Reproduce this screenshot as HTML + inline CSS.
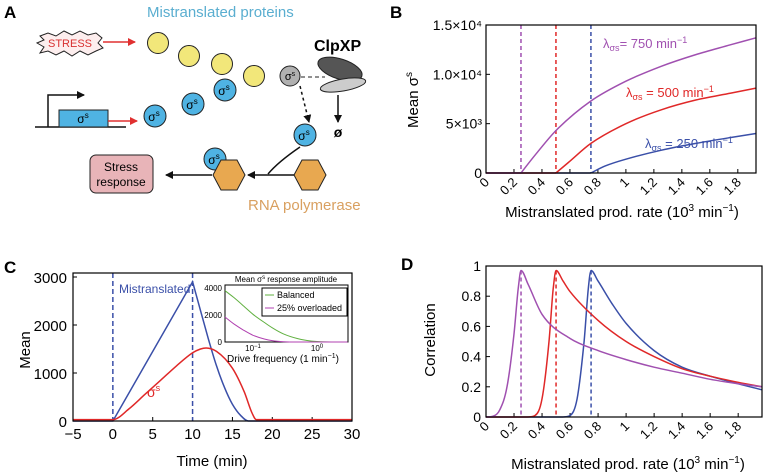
<!DOCTYPE html>
<html><head><meta charset="utf-8"><style>
html,body{margin:0;padding:0;background:#fff;}
svg{display:block;font-family:"Liberation Sans",Arial,sans-serif;}
</style></head><body>
<svg id="fig" width="766" height="476" viewBox="0 0 766 476" xmlns="http://www.w3.org/2000/svg">
<defs>
<marker id="ab" markerWidth="8" markerHeight="8" refX="7" refY="4" orient="auto" markerUnits="userSpaceOnUse"><path d="M0,0 L8,4 L0,8 z" fill="#111"/></marker>
<marker id="ar" markerWidth="8" markerHeight="8" refX="7" refY="4" orient="auto" markerUnits="userSpaceOnUse"><path d="M0,0 L8,4 L0,8 z" fill="#e03030"/></marker>
</defs>

<!-- PANEL A -->
<g>
<text x="4" y="18" font-size="17" font-weight="bold">A</text>
<text x="147" y="17" font-size="15" fill="#5aaed0">Mistranslated proteins</text>
<polygon points="40,36 48,33 56,36 64,31 72,35 80,31 88,35 96,33 102,38 98,43 103,48 96,51 88,55 80,51 72,56 64,51 56,55 48,51 40,53 44,47 37,43 44,40" fill="#fdeeee" stroke="#222" stroke-width="1"/>
<text x="70" y="47" font-size="11" fill="#d83030" text-anchor="middle">STRESS</text>
<line x1="103" y1="42" x2="135" y2="42" stroke="#e03030" stroke-width="1.5" marker-end="url(#ar)"/>
<g fill="#f2e77a" stroke="#222" stroke-width="1">
<circle cx="158" cy="43" r="10.5"/><circle cx="189" cy="56" r="10.5"/><circle cx="222" cy="64" r="10.5"/><circle cx="254" cy="76" r="10.5"/>
</g>
<circle cx="290" cy="76" r="10" fill="#b0b0b0" stroke="#222"/>
<text x="290" y="80" font-size="11" text-anchor="middle">σ<tspan font-size="7" dy="-4">s</tspan></text>
<line x1="301" y1="77" x2="325" y2="77" stroke="#222" stroke-dasharray="4,3"/>
<text x="314" y="51" font-size="16" font-weight="bold">ClpXP</text>
<ellipse cx="340" cy="69" rx="23" ry="10" transform="rotate(18 340 69)" fill="#555" stroke="#222"/>
<ellipse cx="343" cy="85" rx="23" ry="6" transform="rotate(-10 343 85)" fill="#ccc" stroke="#222"/>
<line x1="338" y1="95" x2="338" y2="122" stroke="#111" stroke-width="1.5" marker-end="url(#ab)"/>
<text x="338" y="137" font-size="14" font-weight="bold" text-anchor="middle">ø</text>
<line x1="300" y1="86" x2="309" y2="122" stroke="#111" stroke-width="1.5" stroke-dasharray="3,3" marker-end="url(#ab)"/>
<g>
<g fill="#4fb3e3" stroke="#222"><circle cx="155" cy="116" r="11"/><circle cx="193" cy="104" r="11"/><circle cx="225" cy="90" r="11"/><circle cx="305" cy="135" r="11"/><circle cx="215" cy="159" r="11"/></g>
<g font-size="12" text-anchor="middle"><text x="154" y="121">σ<tspan font-size="8" dy="-5">s</tspan></text><text x="192" y="109">σ<tspan font-size="8" dy="-5">s</tspan></text><text x="224" y="95">σ<tspan font-size="8" dy="-5">s</tspan></text><text x="304" y="140">σ<tspan font-size="8" dy="-5">s</tspan></text><text x="214" y="164">σ<tspan font-size="8" dy="-5">s</tspan></text></g>
</g>
<line x1="35" y1="127" x2="126" y2="127" stroke="#111" stroke-width="1.5"/>
<polyline points="48,127 48,95 84,95" fill="none" stroke="#111" stroke-width="1.5" marker-end="url(#ab)"/>
<rect x="59" y="110" width="49" height="17" fill="#4fb3e3" stroke="#222"/>
<text x="83" y="123" font-size="12" text-anchor="middle">σ<tspan font-size="8" dy="-5">s</tspan></text>
<line x1="108" y1="121" x2="137" y2="121" stroke="#e03030" stroke-width="1.5" marker-end="url(#ar)"/>
<g fill="#e8a850" stroke="#222">
<polygon points="213,175 221,160 237,160 245,175 237,190 221,190"/>
<polygon points="294,175 302,160 318,160 326,175 318,190 302,190"/>
</g>
<line x1="294" y1="175" x2="248" y2="175" stroke="#111" stroke-width="1.5" marker-end="url(#ab)"/>
<path d="M300,147 Q278,162 268,174" fill="none" stroke="#111" stroke-width="1.5"/>
<line x1="212" y1="175" x2="166" y2="175" stroke="#111" stroke-width="1.5" marker-end="url(#ab)"/>
<rect x="90" y="155" width="63" height="38" rx="6" fill="#e8b4b8" stroke="#222"/>
<text x="121" y="171" font-size="12" text-anchor="middle"><tspan x="121">Stress</tspan><tspan x="121" dy="15">response</tspan></text>
<text x="248" y="210" font-size="15" fill="#d9a060">RNA polymerase</text>
</g>

<g id="charts"></g>
</svg>
<script>
// ---- Panel B data ----
const bX = [0.25,0.35,0.5,0.75,1.0,1.25,1.5,1.75,1.93];
const bPurple = [0,1800,4300,7300,9300,10800,12000,13000,13700];
const bRedX = [0.5,0.6,0.75,1.0,1.25,1.5,1.75,1.93];
const bRed = [0,1200,3000,5000,6400,7400,8100,8600];
const bBlueX = [0.75,0.85,1.0,1.25,1.5,1.75,1.93];
const bBlue = [0,700,1400,2300,3000,3600,4000];
const bYTicks = [0,5000,10000,15000];
const bYLabels = ["0","5×10³","1.0×10⁴","1.5×10⁴"];
const xTicks = [0,0.2,0.4,0.6,0.8,1,1.2,1.4,1.6,1.8];
const xTickLabels = ["0","0.2","0.4","0.6","0.8","1","1.2","1.4","1.6","1.8"];
const thresholds = [0.25,0.5,0.75];
// ---- Panel C data ----
const cTime = [-5,0,2,4,6,8,10,11,11.7,13,15,16.5,17.5,18,30];
const cSigma = [30,30,250,550,850,1150,1420,1500,1520,1450,1100,600,150,30,30];
const cMisT = [-5,0,10,11,12,13,14,15,16,17,30];
const cMis = [0,0,2900,2300,1700,1150,700,350,120,0,0];
const cYTicks = [0,1000,2000,3000];
const cXTicks = [-5,0,5,10,15,20,25,30];
// inset
const iFreq = [0.0365,0.05,0.07,0.1,0.15,0.2,0.3,0.5,0.7,1,2,3];
const iBalanced = [3800,3300,2700,2050,1450,1050,600,250,110,40,0,0];
const iOverloaded = [1850,1350,900,500,220,100,20,0,0,0,0,0];
// ---- Panel D data ----
const dPX = [0,0.05,0.1,0.15,0.2,0.23,0.25,0.3,0.4,0.6,0.8,1.0,1.2,1.4,1.6,1.8,1.97];
const dP = [0,0.005,0.05,0.2,0.55,0.85,0.97,0.88,0.68,0.52,0.44,0.38,0.33,0.29,0.25,0.22,0.2];
const dRX = [0.3,0.35,0.4,0.45,0.48,0.5,0.55,0.6,0.8,1.0,1.2,1.4,1.6,1.8,1.97];
const dR = [0,0.01,0.12,0.5,0.85,0.97,0.9,0.83,0.64,0.5,0.4,0.32,0.27,0.23,0.2];
const dBX = [0.55,0.6,0.65,0.7,0.73,0.75,0.8,0.9,1.0,1.2,1.4,1.6,1.8,1.97];
const dB = [0,0.01,0.12,0.5,0.85,0.97,0.9,0.75,0.62,0.44,0.33,0.27,0.22,0.18];
const dYTicks = [0,0.2,0.4,0.6,0.8,1];
const dYLabels = ["0","0.2","0.4","0.6","0.8","1"];

const NS="http://www.w3.org/2000/svg";
const root=document.getElementById('charts');
function mk(tag,attrs,parent,text){const e=document.createElementNS(NS,tag);for(const k in attrs)e.setAttribute(k,attrs[k]);if(text!==undefined)e.textContent=text;(parent||root).appendChild(e);return e;}
function lin(d0,d1,r0,r1){return v=>r0+(v-d0)/(d1-d0)*(r1-r0);}
// monotone cubic path (Fritsch-Carlson) in pixel space
function pathD(xs,ys,sx,sy){
  const X=xs.map(sx),Y=ys.map(sy),n=X.length;
  if(n<3)return X.map((x,i)=>(i?'L':'M')+x.toFixed(1)+','+Y[i].toFixed(1)).join(' ');
  const d=[],m=new Array(n);
  for(let i=0;i<n-1;i++)d.push((Y[i+1]-Y[i])/(X[i+1]-X[i]));
  m[0]=d[0];m[n-1]=d[n-2];
  for(let i=1;i<n-1;i++){m[i]=(d[i-1]*d[i]<=0)?0:(d[i-1]+d[i])/2;}
  for(let i=0;i<n-1;i++){if(d[i]===0){m[i]=0;m[i+1]=0;continue;}const a=m[i]/d[i],b=m[i+1]/d[i],s=a*a+b*b;if(s>9){const t=3/Math.sqrt(s);m[i]=t*a*d[i];m[i+1]=t*b*d[i];}}
  let p='M'+X[0].toFixed(1)+','+Y[0].toFixed(1);
  for(let i=0;i<n-1;i++){const h=(X[i+1]-X[i])/3;p+=` C${(X[i]+h).toFixed(1)},${(Y[i]+m[i]*h).toFixed(1)} ${(X[i+1]-h).toFixed(1)},${(Y[i+1]-m[i+1]*h).toFixed(1)} ${X[i+1].toFixed(1)},${Y[i+1].toFixed(1)}`;}
  return p;
}
function linD(xs,ys,sx,sy){return xs.map((x,i)=>(i?'L':'M')+sx(x).toFixed(1)+','+sy(ys[i]).toFixed(1)).join(' ');}

const PUR="#a050b0",RED="#e02828",BLU="#3a4fa8";

// ===== Panel B =====
(function(){
const g=mk('g',{});


const L=486,R=756,T=25,B=173;
const sx=lin(0,1.93,L,R), sy=lin(0,15000,B,T);
const lb=mk('text',{x:390,y:18,'font-size':17,'font-weight':'bold'},g,'B');


bYTicks.forEach((v,i)=>{
  mk('line',{x1:L,x2:L+4,y1:sy(v),y2:sy(v),stroke:'#000'},g);
  const t=mk('text',{x:L-4,y:sy(v)+5,'font-size':14,'text-anchor':'end'},g,bYLabels[i]);
  
  
});
xTicks.forEach((v,i)=>{
  mk('line',{x1:sx(v),x2:sx(v),y1:B,y2:B-4,stroke:'#000'},g);
  const t=mk('text',{x:sx(v)+4,y:B+10,'font-size':13,'text-anchor':'end',transform:`rotate(-45 ${sx(v)+4} ${B+10})`},g,xTickLabels[i]);
  
  
});
[PUR,RED,BLU].forEach((c,i)=>{
  const l=mk('line',{x1:sx(thresholds[i]),x2:sx(thresholds[i]),y1:T,y2:B,stroke:c,'stroke-width':1.5,'stroke-dasharray':'4,3'},g);
  
  
});
mk('line',{x1:L,x2:sx(0.75),y1:B,y2:B,stroke:BLU,'stroke-width':1.5},g);
mk('line',{x1:L,x2:sx(0.5),y1:B,y2:B,stroke:RED,'stroke-width':1.5},g);
mk('line',{x1:L,x2:sx(0.25),y1:B,y2:B,stroke:PUR,'stroke-width':1.5},g);
const p1=mk('path',{d:pathD(bX,bPurple,sx,sy),fill:'none',stroke:PUR,'stroke-width':1.5},g);


const p2=mk('path',{d:pathD(bRedX,bRed,sx,sy),fill:'none',stroke:RED,'stroke-width':1.5},g);


const p3=mk('path',{d:pathD(bBlueX,bBlue,sx,sy),fill:'none',stroke:BLU,'stroke-width':1.5},g);


mk('rect',{x:L,y:T,width:R-L,height:B-T,fill:'none',stroke:'#000','stroke-width':1.2},g);
const labs=[[603,48,PUR,'= 750 min'],[626,97,RED,' = 500 min'],[645,148,BLU,' = 250 min']];
labs.forEach(a=>{const t=mk('text',{x:a[0],y:a[1],'font-size':13,fill:a[2]},g);


t.innerHTML=`λ<tspan font-size="9" dy="3">σs</tspan><tspan dy="-3">${a[3]}</tspan><tspan font-size="9" dy="-5">−1</tspan>`;});
const xt=mk('text',{x:622,y:217,'font-size':15,'text-anchor':'middle'},g);


xt.innerHTML='Mistranslated prod. rate (10<tspan font-size="10" dy="-6">3</tspan><tspan dy="6"> min</tspan><tspan font-size="10" dy="-6">−1</tspan><tspan dy="6">)</tspan>';
const yt=mk('text',{x:0,y:0,'font-size':15,'text-anchor':'middle',transform:'translate(418,100) rotate(-90)'},g);


yt.innerHTML='Mean σ<tspan font-size="10" dy="-6">s</tspan>';
})();

// ===== Panel C =====
(function(){
const g=mk('g',{});


const L=73,R=352,T=273,B=421;
const sx=lin(-5,30,L,R), sy=lin(0,3000,B,277);
const lb=mk('text',{x:4,y:273,'font-size':17,'font-weight':'bold'},g,'C');


cYTicks.forEach(v=>{
  mk('line',{x1:L,x2:L+4,y1:sy(v),y2:sy(v),stroke:'#000'},g);
  const t=mk('text',{x:L-6,y:sy(v)+6,'font-size':15,'text-anchor':'end'},g,String(v));
  
  
});
cXTicks.forEach(v=>{
  mk('line',{x1:sx(v),x2:sx(v),y1:B,y2:B-4,stroke:'#000'},g);
  const t=mk('text',{x:sx(v),y:B+18,'font-size':15,'text-anchor':'middle'},g,v<0?'−'+(-v):String(v));
  
  
});
[0,10].forEach(v=>{const l=mk('line',{x1:sx(v),x2:sx(v),y1:T,y2:B,stroke:BLU,'stroke-width':1.5,'stroke-dasharray':'5,3'},g);

});
const pm=mk('path',{d:linD(cMisT.slice(0,3),cMis.slice(0,3),sx,sy)+' '+pathD(cMisT.slice(2),cMis.slice(2),sx,sy).replace('M','L'),fill:'none',stroke:BLU,'stroke-width':1.5},g);


const ps=mk('path',{d:pathD(cTime,cSigma,sx,sy),fill:'none',stroke:RED,'stroke-width':1.5},g);


mk('rect',{x:L,y:T,width:R-L,height:B-T,fill:'none',stroke:'#000','stroke-width':1.2},g);
const t1=mk('text',{x:119,y:293,'font-size':12,fill:BLU},g,'Mistranslated');


const t2=mk('text',{x:147,y:397,'font-size':14,fill:RED},g);


t2.innerHTML='σ<tspan font-size="9" dy="-6">s</tspan>';
const xt=mk('text',{x:212,y:466,'font-size':15,'text-anchor':'middle'},g,'Time (min)');


const yt=mk('text',{x:0,y:0,'font-size':15,'text-anchor':'middle',transform:'translate(30,350) rotate(-90)'},g,'Mean');


// inset
const iL=225,iR=348,iT=285,iB=342;
const lx=v=>iL+(Math.log10(v)-Math.log10(0.0365))/(Math.log10(3.05)-Math.log10(0.0365))*(iR-iL);
const iy=lin(0,4000,iB,288);
const ig=mk('g',{},g);


mk('rect',{x:iL,y:iT,width:iR-iL,height:iB-iT,fill:'#fff',stroke:'#000'},ig);
const it=mk('text',{x:286,y:282,'font-size':8,'text-anchor':'middle'},ig);


it.innerHTML='Mean σ<tspan font-size="6" dy="-3">s</tspan><tspan dy="3"> response amplitude</tspan>';
[0,2000,4000].forEach(v=>{const t=mk('text',{x:iL-3,y:iy(v)+3,'font-size':8,'text-anchor':'end'},ig,String(v));

});
[[0.1,'10','−1'],[1,'10','0']].forEach(a=>{const t=mk('text',{x:lx(a[0]),y:iB+9,'font-size':8,'text-anchor':'middle'},ig);


t.innerHTML=a[1]+'<tspan font-size="6" dy="-3">'+a[2]+'</tspan>';});
const gb=mk('path',{d:pathD(iFreq,iBalanced,lx,iy),fill:'none',stroke:'#60b040','stroke-width':1},ig);


const go=mk('path',{d:pathD(iFreq,iOverloaded,lx,iy),fill:'none',stroke:'#b040b0','stroke-width':1},ig);


const lg=mk('g',{},ig);


mk('rect',{x:262,y:288,width:85,height:28,fill:'#fff',stroke:'#000'},lg);
mk('line',{x1:265,x2:274,y1:295,y2:295,stroke:'#60b040'},lg);
mk('text',{x:277,y:298,'font-size':9},lg,'Balanced');
mk('line',{x1:265,x2:274,y1:308,y2:308,stroke:'#b040b0'},lg);
mk('text',{x:277,y:311,'font-size':9},lg,'25% overloaded');
const ixt=mk('text',{x:283,y:362,'font-size':10,'text-anchor':'middle'},ig);


ixt.innerHTML='Drive frequency (1 min<tspan font-size="7" dy="-4">−1</tspan><tspan dy="4">)</tspan>';
})();

// ===== Panel D =====
(function(){
const g=mk('g',{});


const L=486,R=762,T=266,B=417;
const sx=lin(0,1.97,L,R), sy=lin(0,1,B,T);
const lb=mk('text',{x:401,y:270,'font-size':17,'font-weight':'bold'},g,'D');


dYTicks.forEach((v,i)=>{
  mk('line',{x1:L,x2:L+4,y1:sy(v),y2:sy(v),stroke:'#000'},g);
  const t=mk('text',{x:L-5,y:sy(v)+5,'font-size':14,'text-anchor':'end'},g,dYLabels[i]);
  
  
});
xTicks.forEach((v,i)=>{
  mk('line',{x1:sx(v),x2:sx(v),y1:B,y2:B-4,stroke:'#000'},g);
  const t=mk('text',{x:sx(v)+4,y:B+10,'font-size':13,'text-anchor':'end',transform:`rotate(-45 ${sx(v)+4} ${B+10})`},g,xTickLabels[i]);
  
  
});
[PUR,RED,BLU].forEach((c,i)=>{
  const l=mk('line',{x1:sx(thresholds[i]),x2:sx(thresholds[i]),y1:sy(0.97),y2:B,stroke:c,'stroke-width':1.5,'stroke-dasharray':'4,3'},g);
  
  
});
mk('line',{x1:L,x2:sx(0.55),y1:B,y2:B,stroke:BLU,'stroke-width':1.5},g);
mk('line',{x1:L,x2:sx(0.3),y1:B,y2:B,stroke:RED,'stroke-width':1.5},g);
const a=mk('path',{d:pathD(dBX,dB,sx,sy),fill:'none',stroke:BLU,'stroke-width':1.5},g);


const b=mk('path',{d:pathD(dRX,dR,sx,sy),fill:'none',stroke:RED,'stroke-width':1.5},g);


const c=mk('path',{d:pathD(dPX,dP,sx,sy),fill:'none',stroke:PUR,'stroke-width':1.5},g);


mk('rect',{x:L,y:T,width:R-L,height:B-T,fill:'none',stroke:'#000','stroke-width':1.2},g);
const xt=mk('text',{x:628,y:469,'font-size':15,'text-anchor':'middle'},g);


xt.innerHTML='Mistranslated prod. rate (10<tspan font-size="10" dy="-6">3</tspan><tspan dy="6"> min</tspan><tspan font-size="10" dy="-6">−1</tspan><tspan dy="6">)</tspan>';
const yt=mk('text',{x:0,y:0,'font-size':15,'text-anchor':'middle',transform:'translate(435,340) rotate(-90)'},g,'Correlation');


})();
</script>
</body></html>
